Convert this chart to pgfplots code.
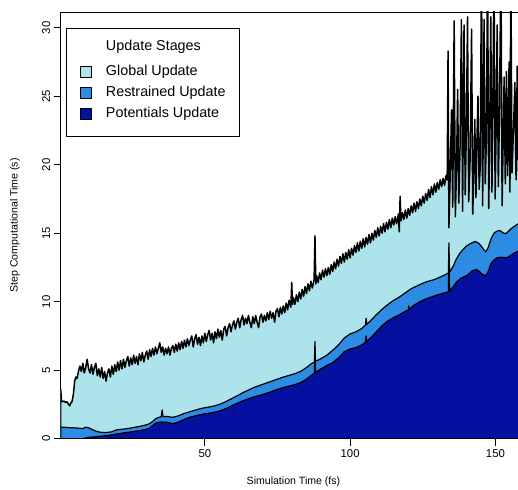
\documentclass[border=0pt]{standalone}
\usepackage{pgfplots}
\pgfplotsset{compat=1.18}
\usepackage{fontspec}
\setmainfont{Liberation Sans}
\definecolor{lightc}{HTML}{ADE3EB}
\definecolor{midc}{HTML}{2C8CE4}
\definecolor{darkc}{HTML}{0610A0}
\begin{document}
\begin{tikzpicture}
\path[use as bounding box] (-60.7bp,-51bp) rectangle (457.3bp,438.7bp);
\begin{axis}[
  at={(0,0)}, anchor=south west,
  scale only axis, width=460bp, height=426.7bp,
  xmin=0.4, xmax=158.7, ymin=0, ymax=31.15,
  axis line style={line width=0.8pt},
  tick pos=left, tick align=outside,
  major tick length=7bp,
  every tick/.style={black, line width=0.8pt},
  xtick={50,100,150}, ytick={0,5,...,30},
  /pgf/number format/assume math mode=true,
  tick label style={font=\fontsize{11.4}{13}\selectfont},
  yticklabel style={rotate=90, anchor=south},
  xticklabel style={anchor=north},
  xlabel={Simulation Time (fs)},
  ylabel={Step Computational Time (s)},
  label style={font=\fontsize{10.6}{12}\selectfont},
  xlabel style={at={(axis description cs:0.506,-0.1005)}, anchor=center},
  ylabel style={at={(axis description cs:-0.0993,0.5)}, anchor=center},
  legend cell align=left,
  legend style={at={(axis description cs:0.0115,0.9632)}, anchor=north west,
    draw=black, line width=0.8pt, fill=white,
    inner xsep=14bp, inner ysep=12.25bp, row sep=7.5bp, column sep=14bp,
    font=\fontsize{14.4}{17}\selectfont,
    nodes={inner sep=0pt, text height=10.5bp, text depth=3bp}},
  line join=round,
]
\addlegendimage{legend image code/.code={\path[draw=none, fill=none] (0bp,0bp) rectangle (11bp,-10.75bp);}}
\addlegendentry{Update Stages}
\addlegendimage{legend image code/.code={\draw[fill=lightc, draw=black, line width=0.6pt] (0bp,-5.5bp) rectangle (11bp,5.5bp);}}
\addlegendentry{Global Update}
\addlegendimage{legend image code/.code={\draw[fill=midc, draw=black, line width=0.6pt] (0bp,-5.5bp) rectangle (11bp,5.5bp);}}
\addlegendentry{Restrained Update}
\addlegendimage{legend image code/.code={\draw[fill=darkc, draw=black, line width=0.6pt] (0bp,-5.5bp) rectangle (11bp,5.5bp);\path[draw=none, fill=none] (0bp,0bp) rectangle (11bp,-9.75bp);}}
\addlegendentry{Potentials Update}

% Total (global update top)
\addplot[forget plot, fill=lightc, draw=black, line width=1.5pt] coordinates {
(0.4,3.6)(0.7,2.75)(1.0,2.7)(1.5,2.75)(2.0,2.65)(2.5,2.7)(3.0,2.55)(3.5,2.4)(4.0,2.65)(4.3,2.7)(4.8,3.3)(5.2,4.2)(5.6,4.5)(6.0,4.4)(6.5,4.9)(7.0,5.3)(7.5,4.9)(8.0,5.5)(8.5,4.8)(9.0,5.2)(9.5,5.8)(10.0,5.1)(10.5,4.8)(11.0,5.4)(11.5,4.7)(12.0,5.2)(12.5,5.5)(13.0,4.6)(13.5,5.1)(14.0,4.5)(14.5,5.2)(15.0,4.4)(15.5,4.9)(16.0,4.2)(16.5,4.8)(17.0,5.1)(17.5,4.5)(18.0,5.3)(18.5,4.7)(19.0,5.4)(19.5,4.9)(20.0,5.6)(20.5,5.0)(21.0,5.7)(21.5,5.1)(22.0,5.8)(22.5,5.2)(23.0,5.7)(23.5,6.0)(24.0,5.3)(24.5,5.9)(25.0,5.4)(25.5,6.1)(26.0,5.5)(26.5,6.0)(27.0,5.4)(27.5,6.2)(28.0,5.7)(28.5,6.3)(29.0,5.6)(29.5,6.1)(30.0,6.4)(30.5,5.8)(31.0,6.5)(31.5,6.0)(32.0,6.6)(32.5,6.1)(33.0,6.7)(33.5,6.2)(34.0,6.6)(34.5,7.0)(35.0,6.3)(35.5,6.7)(36.0,6.1)(36.5,6.6)(37.0,6.2)(37.5,6.7)(38.0,6.1)(38.5,6.6)(39.0,6.8)(39.5,6.3)(40.0,6.9)(40.5,6.4)(41.0,7.0)(41.5,6.5)(42.0,7.1)(42.5,6.6)(43.0,7.2)(43.5,6.7)(44.0,7.3)(44.5,6.8)(45.0,7.2)(45.5,7.5)(46.0,6.7)(46.5,7.3)(47.0,7.6)(47.5,6.9)(48.0,7.4)(48.5,6.8)(49.0,7.5)(49.5,7.0)(50.0,7.7)(50.5,7.1)(51.0,7.6)(51.5,7.9)(52.0,7.2)(52.5,7.7)(53.0,7.0)(53.5,7.8)(54.0,7.3)(54.5,8.0)(55.0,7.4)(55.5,7.9)(56.0,7.2)(56.5,8.0)(57.0,8.2)(57.5,7.5)(58.0,8.1)(58.5,8.4)(59.0,7.8)(59.5,8.3)(60.0,8.6)(60.5,8.0)(61.0,8.5)(61.5,8.8)(62.0,8.1)(62.5,8.7)(63.0,9.0)(63.5,8.3)(64.0,8.8)(64.5,8.4)(65.0,9.0)(65.5,8.5)(66.0,8.1)(66.5,8.9)(67.0,8.4)(67.5,9.0)(68.0,8.5)(68.5,8.1)(69.0,8.9)(69.5,9.1)(70.0,8.5)(70.5,9.0)(71.0,8.6)(71.5,9.2)(72.0,8.7)(72.5,9.3)(73.0,8.8)(73.5,9.2)(74.0,8.5)(74.5,9.3)(75.0,9.5)(75.5,8.9)(76.0,9.6)(76.5,9.1)(77.0,9.7)(77.5,9.2)(78.0,9.9)(78.5,9.4)(79.0,10.1)(79.6,9.6)(79.9,11.4)(80.2,9.8)(80.5,10.3)(81.0,9.8)(81.5,10.5)(82.0,10.0)(82.5,10.7)(83.0,10.2)(83.5,10.9)(84.0,10.4)(84.5,11.1)(85.0,10.6)(85.5,11.3)(86.0,10.8)(86.5,11.5)(87.0,11.0)(87.6,11.6)(87.9,14.8)(88.2,11.3)(88.5,11.9)(89.0,11.4)(89.5,12.1)(90.0,11.6)(90.5,12.3)(91.0,11.8)(91.5,12.4)(92.0,11.9)(92.5,12.5)(93.0,12.0)(93.5,12.7)(94.0,12.2)(94.5,12.9)(95.0,12.4)(95.5,13.1)(96.0,12.6)(96.5,13.3)(97.0,12.8)(97.5,13.5)(98.0,12.9)(98.5,13.6)(99.0,13.1)(99.5,13.8)(100.0,13.2)(100.5,13.9)(101.0,13.4)(101.5,14.1)(102.0,13.6)(102.5,14.3)(103.0,13.7)(103.5,14.4)(104.0,13.9)(104.5,14.6)(105.0,14.0)(105.5,14.7)(106.0,14.2)(106.5,14.9)(107.0,14.3)(107.5,15.0)(108.0,14.5)(108.5,15.2)(109.0,14.7)(109.5,15.4)(110.0,14.8)(110.5,15.5)(111.0,15.0)(111.5,15.7)(112.0,15.1)(112.5,15.8)(113.0,15.3)(113.5,16.0)(114.0,15.4)(114.5,16.1)(115.0,15.6)(115.5,16.2)(116.0,15.7)(116.6,16.4)(116.9,15.1)(117.2,17.7)(117.5,15.9)(118.0,16.5)(118.5,16.0)(119.0,16.7)(119.5,16.1)(120.0,16.8)(120.5,16.3)(121.0,17.0)(121.5,16.5)(122.0,17.2)(122.5,16.6)(123.0,17.3)(123.5,16.8)(124.0,17.5)(124.5,17.0)(125.0,17.7)(125.5,17.2)(126.0,17.9)(126.5,17.4)(127.0,18.2)(127.5,17.6)(128.0,18.4)(128.5,17.8)(129.0,18.6)(129.5,18.0)(130.0,18.7)(130.5,18.2)(131.0,18.9)(131.5,18.4)(132.0,19.0)(132.5,18.5)(133.0,19.2)(133.4,18.9)
(133.7,28.3)(134.0,15.4)(134.4,19.0)(134.9,24.0)(135.3,16.9)(135.8,30.5)(136.2,16.2)(136.6,19.5)(137.0,25.5)(137.4,17.2)(137.8,21.0)(138.3,30.6)(138.7,16.6)(139.2,30.2)(139.6,17.8)(140.0,22.5)(140.4,30.8)(140.8,17.3)(141.3,20.5)(141.8,29.9)(142.2,16.4)(142.6,19.8)(142.9,23.3)(143.3,17.6)(143.6,21.4)(144.0,25.0)(144.4,18.2)(144.8,20.0)(145.2,35)(145.6,17.0)(146.1,30.6)(146.5,18.6)(146.9,22.0)(147.3,35)(147.7,16.8)(148.0,21.5)(148.4,30.8)(148.8,18.0)(149.1,23.8)(149.5,35)(149.9,17.5)(150.2,22.0)(150.6,30.2)(151.0,18.4)(151.4,24.0)(151.9,35)(152.3,17.0)(152.6,21.0)(153.0,26.4)(153.4,18.6)(153.8,26.8)(154.2,19.2)(154.7,27.5)(155.0,18.0)(155.3,35)(155.7,19.4)(156.2,22.5)(156.7,26.0)(157.1,18.9)(157.5,27.2)(157.9,19.5)(158.7,19.5)
} \closedcycle;

% Potentials + Restrained
\addplot[forget plot, fill=midc, draw=black, line width=1.2pt] coordinates {
(0.4,0.85)(2,0.83)(4,0.8)(6,0.78)(8,0.74)(9,0.84)(10,0.8)(11,0.7)(12,0.6)(13,0.52)(14,0.47)(16,0.45)(18,0.5)(19,0.6)(20,0.66)(22,0.7)(24,0.76)(26,0.84)(28,0.92)(30,1.02)(31,1.1)(32,1.25)(33,1.45)(34,1.55)(35,1.6)(35.3,2.1)(35.6,1.62)(37,1.62)(39,1.56)(41,1.68)(43,1.85)(45,1.98)(47,2.1)(49,2.22)(51,2.3)(53,2.38)(55,2.5)(57,2.68)(59,2.9)(61,3.12)(63,3.35)(65,3.55)(67,3.75)(69,3.9)(71,4.05)(73,4.2)(75,4.35)(77,4.5)(79,4.62)(81,4.75)(83,4.92)(85,5.2)(86.5,5.45)(87.7,5.6)(87.9,7.1)(88.1,5.65)(90,5.85)(92,6.1)(94,6.45)(96,6.85)(98,7.35)(100,7.65)(102,7.8)(104,8.05)(105.3,8.3)(105.5,8.8)(105.7,8.35)(107,8.6)(109,9.05)(111,9.45)(113,9.8)(115,10.1)(117,10.35)(119,10.65)(121,10.95)(123,11.15)(125,11.35)(127,11.5)(129,11.62)(131,11.8)(133,12.0)(133.8,12.1)(134.0,14.3)(134.2,12.15)(135.5,12.6)(136.5,13.1)(137.8,13.55)(139,13.85)(140,14.05)(141,14.2)(142,14.3)(143,14.4)(144,14.3)(145,14.1)(146,13.8)(146.7,13.65)(147.5,13.95)(148.5,14.6)(149.5,15.0)(150.5,15.15)(151.5,15.2)(152.5,15.05)(153.5,14.95)(154.5,15.15)(155.5,15.35)(156.5,15.5)(157.9,15.7)(158.7,15.75)
} \closedcycle;

% Potentials
\addplot[forget plot, fill=darkc, draw=black, line width=1.2pt] coordinates {
(0.4,0)(8.5,0)(9,0.07)(10,0.1)(12,0.13)(14,0.18)(16,0.22)(18,0.28)(20,0.36)(22,0.42)(24,0.48)(26,0.54)(28,0.6)(30,0.7)(31,0.78)(32,0.95)(33,1.12)(34,1.2)(35,1.22)(37,1.2)(39,1.1)(41,1.22)(43,1.42)(45,1.58)(47,1.68)(49,1.78)(51,1.85)(53,1.92)(55,2.02)(57,2.18)(59,2.38)(61,2.58)(63,2.76)(65,2.92)(67,3.06)(69,3.17)(71,3.3)(73,3.45)(75,3.6)(77,3.74)(79,3.84)(81,3.95)(83,4.1)(85,4.35)(86.5,4.6)(87.7,4.8)(87.9,6.4)(88.1,4.85)(90,5.1)(92,5.35)(94,5.55)(96,5.9)(98,6.35)(100,6.55)(102,6.65)(104,6.85)(105.3,7.05)(105.5,7.5)(105.7,7.1)(107,7.35)(109,7.8)(111,8.25)(113,8.6)(115,8.85)(117,9.05)(119,9.3)(120,9.4)(120.2,9.7)(120.4,9.45)(122,9.75)(124,10.0)(126,10.2)(128,10.35)(130,10.5)(132,10.62)(133.8,10.72)(134.0,13.4)(134.2,10.8)(135.5,11.1)(136.5,11.4)(138,11.7)(140,11.9)(141,12.05)(142,12.25)(143.5,12.35)(144.5,12.2)(145.5,12.0)(146.7,11.9)(147.5,12.2)(148.5,12.8)(149.5,13.05)(150.5,13.2)(152,13.25)(153.8,13.2)(155,13.35)(156.5,13.55)(157.9,13.7)(158.7,13.75)
} \closedcycle;
\end{axis}
\end{tikzpicture}
\end{document}
